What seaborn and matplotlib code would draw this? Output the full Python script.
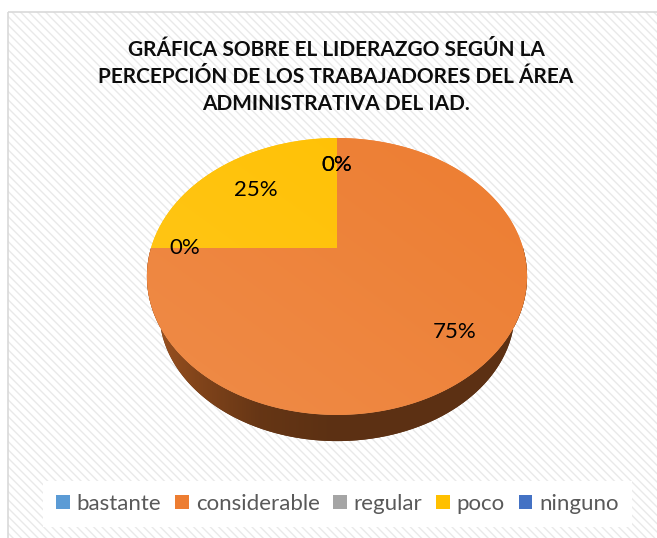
import numpy as np
import pandas as pd
import matplotlib
matplotlib.use("Agg")
import matplotlib.pyplot as plt
from matplotlib.patches import Polygon, Rectangle, Patch
import seaborn as sns

# DATOS
categorias = ['bastante', 'considerable', 'regular', 'poco', 'ninguno']
valores = [0, 75, 0, 25, 0]
colores = ['#5B9BD5', '#ED7D31', '#A5A5A5', '#FFC000', '#4472C4']
titulo = ('GRÁFICA SOBRE EL LIDERAZGO SEGÚN LA\n'
          'PERCEPCIÓN DE LOS TRABAJADORES DEL ÁREA\n'
          'ADMINISTRATIVA DEL IAD.')

df = pd.DataFrame({'categoria': categorias, 'valor': valores})
df['pct'] = df['valor'] / df['valor'].sum()
df['fin'] = 90 - 360 * df['pct'].cumsum()      # sentido horario desde arriba
df['ini'] = df['fin'] + 360 * df['pct']
df['medio'] = (df['ini'] + df['fin']) / 2

# layout of the 3d pie (pixels)
CX, CY, A, B, K = 337, 248, 186, 132.6, 0.2057
DROP, SHR = 37, 0.935
label_r = [0.72, 0.79, 0.82, 0.68, 0.72]

sns.set_theme(style='white')
plt.rcParams['font.family'] = ['Lato', 'DejaVu Sans']
plt.rcParams['hatch.linewidth'] = 1.0
pal = sns.color_palette(colores)


def proj(theta, r=1.0, drop=0.0, s=1.0):
    t = np.radians(theta)
    u, v = r * np.cos(t), r * np.sin(t)
    d = 1 + K * v
    return CX + s * A * u / d, CY + drop - s * B * v / d


def gradient_fill(ax, xy, rgb_fn, ext=(130, 545, 460, 125)):
    poly = Polygon(xy, closed=True, facecolor='none', edgecolor='none', transform=ax.transData)
    ax.add_patch(poly)
    xs = np.linspace(ext[0], ext[1], 300)
    ys = np.linspace(ext[3], ext[2], 250)
    X, Y = np.meshgrid(xs, ys)
    img = rgb_fn(X, Y)
    im = ax.imshow(img, extent=ext, origin='upper', aspect='auto', zorder=2, interpolation='bilinear')
    im.set_clip_path(poly)
    # relleno plano debajo para evitar bordes
    ax.add_patch(Polygon(xy, closed=True, facecolor=img[img.shape[0] // 2, img.shape[1] // 2],
                         edgecolor='none', zorder=1.9))


fig = plt.figure(figsize=(6.57, 5.38), dpi=100)
fig.patch.set_facecolor('white')
ax = fig.add_axes([0, 0, 1, 1])
ax.patch.set_alpha(0)

# fondo con trama diagonal
ax.add_patch(Rectangle((8, 12), 660, 540, facecolor='white', edgecolor='#e9e9e9',
                       hatch='\\\\\\\\', lw=0, zorder=0))
ax.add_patch(Rectangle((8, 12), 660, 540, fill=False, edgecolor='#d9d9d9', lw=1.2, zorder=0.5))

# caras laterales (parte frontal del pastel)
for i, row in df.iterrows():
    if row['pct'] <= 0:
        continue
    for off in (-360, 0, 360):
        a0 = max(row['fin'] + off, 180)
        a1 = min(row['ini'] + off, 360)
        if a1 - a0 <= 0.01:
            continue
        th = np.linspace(a0, a1, 200)
        tx, ty = proj(th)
        bx, by = proj(th, drop=DROP, s=SHR)
        xy = np.column_stack([np.r_[tx, bx[::-1]], np.r_[ty, by[::-1]]])
        base = np.array(pal[i])

        def side_rgb(X, Y, base=base):
            f = np.interp(X, [145, 195, 260, 330, 545], [0.68, 0.55, 0.43, 0.39, 0.39])
            return np.clip(base[None, None, :] * f[..., None], 0, 1)
        gradient_fill(ax, xy, side_rgb)

# cara superior
for i, row in df.iterrows():
    if row['pct'] <= 0:
        continue
    th = np.linspace(row['ini'], row['fin'], 300)
    ax_, ay_ = proj(th)
    xy = np.column_stack([np.r_[CX, ax_], np.r_[CY, ay_]])
    base = np.array(pal[i])

    def top_rgb(X, Y, base=base):
        g = np.clip(((530 - X) / 380 + (Y - 138) / 277) / 2, 0, 1)
        w = 0.11 * g
        return base[None, None, :] * (1 - w[..., None]) + w[..., None]
    gradient_fill(ax, xy, top_rgb)

# etiquetas de porcentaje
for i, row in df.iterrows():
    lx, ly = proj(row['medio'], r=label_r[i])
    ax.text(lx, ly, f"{row['pct']:.0%}", ha='center', va='center',
            fontsize=16, color='#000000', zorder=5)

ax.set_xlim(0, 657)
ax.set_ylim(538, 0)
ax.axis('off')

# titulo
ax.text(336, 77, titulo, ha='center', va='center', fontsize=15, fontweight='bold',
        color='#0d0d0d', linespacing=1.45, zorder=5)

# leyenda
handles = [Patch(facecolor=c, edgecolor='none') for c in pal]
fig.legend(handles, categorias, loc='center', bbox_to_anchor=(337.5 / 657, 1 - 504 / 538),
           ncol=5, frameon=True, facecolor='white', edgecolor='none', framealpha=1,
           fancybox=False, fontsize=16, handlelength=0.62, handleheight=0.62,
           handletextpad=0.3, columnspacing=0.62, labelcolor='#595959',
           borderpad=0.6, borderaxespad=0)

fig.savefig('out.png', dpi=100)
